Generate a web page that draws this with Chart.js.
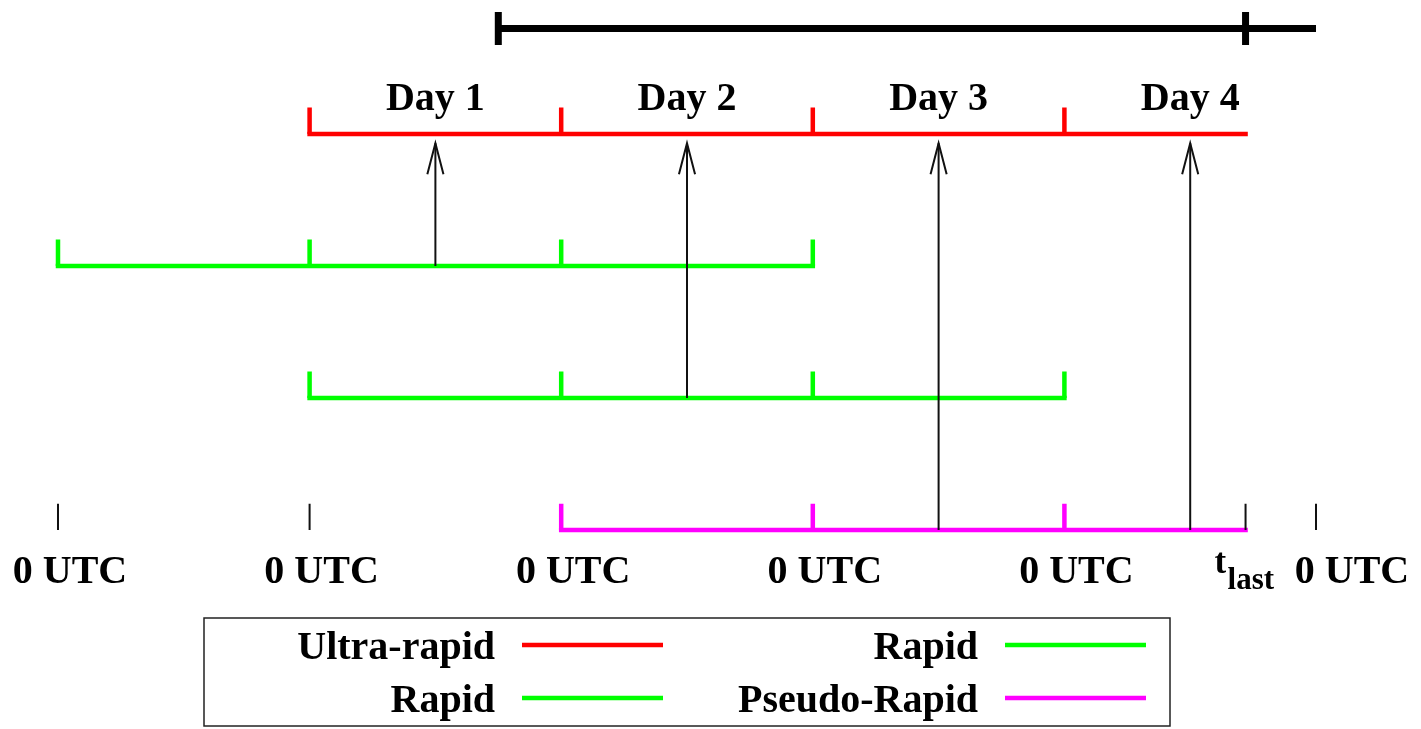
<!DOCTYPE html>
<html>
<head>
<meta charset="utf-8">
<title>Product timeline</title>
<script src="https://cdn.jsdelivr.net/npm/chart.js@4.4.0/dist/chart.umd.min.js"></script>
<style>
  body { margin: 0; background: #fff; }
  #wrap { width: 1421px; height: 729px; }
</style>
</head>
<body>
<div id="wrap"><canvas id="myChart" width="1421" height="729"></canvas></div>
<script>
// time axis in days, 0 = first 0 UTC mark
const dayStarts = [0, 1, 2, 3, 4, 5];
const utcLabels = ["0 UTC", "0 UTC", "0 UTC", "0 UTC", "0 UTC", "0 UTC"];
const tLast = 4.72;
const windowStart = 1.75;
const windowLevel = 3.8;

const dayLabels = ["Day 1", "Day 2", "Day 3", "Day 4"];
const dayCentres = [1.5, 2.5, 3.5, 4.5];

// one row per product
const productNames = ["Ultra-rapid", "Rapid", "Rapid", "Pseudo-Rapid"];
const productColors = ["#ff0000", "#00ff00", "#00ff00", "#ff00ff"];
const productLevels = [3, 2, 1, 0];
const productStarts = [1, 0, 1, 2];
const productEnds = [tLast, 3, 4, tLast];
const productTicks = [[1, 2, 3, 4], [0, 1, 2, 3], [1, 2, 3, 4], [2, 3, 4]];

// arrows: from a product row (level) up to the ultra-rapid day
const arrowX = [1.5, 2.5, 3.5, 4.5];
const arrowFrom = [2, 1, 0, 0];
const arrowTo = 2.93;

// thin black marks on the bottom row
const baseMarks = [0, 1, tLast, 5];

const FONT = '"Liberation Serif", "Times New Roman", serif';
const TICK = 0.2;

function ticksData(xs, level, h) {
  const out = [];
  xs.forEach(x => {
    out.push({ x: x, y: level }, { x: x, y: level + h }, { x: x, y: null });
  });
  return out;
}

function seg(data, color, width, extra) {
  return Object.assign({
    data: data,
    showLine: true,
    borderColor: color,
    backgroundColor: color,
    borderWidth: width,
    pointRadius: 0,
    borderCapStyle: "butt",
    borderJoinStyle: "miter",
    spanGaps: false,
  }, extra || {});
}

const datasets = [];

// arrows first so they sit on top
arrowX.forEach((x, i) => {
  datasets.push(seg([{ x: x, y: arrowFrom[i] }, { x: x, y: arrowTo }], "#111", 2));
  datasets.push(seg([
    { x: x - 0.032, y: arrowTo - 0.235 },
    { x: x, y: arrowTo },
    { x: x + 0.032, y: arrowTo - 0.235 },
  ], "#111", 2));
});

datasets.push(seg(ticksData(baseMarks, 0, TICK), "#111", 2));

productNames.forEach((name, i) => {
  datasets.push(seg([
    { x: productStarts[i], y: productLevels[i] },
    { x: productEnds[i], y: productLevels[i] },
  ], productColors[i], 4.5, { label: name, borderCapStyle: "square" }));
  datasets.push(seg(ticksData(productTicks[i], productLevels[i], TICK), productColors[i], 4.5));
});

// data window bar on top
datasets.push(seg([{ x: windowStart, y: windowLevel }, { x: 5, y: windowLevel }], "#000", 7));
datasets.push(seg(ticksData([windowStart, tLast], windowLevel - 0.125, 0.25), "#000", 7));

const labelPlugin = {
  id: "labels",
  afterDatasetsDraw(chart) {
    const ctx = chart.ctx;
    const xs = chart.scales.x;
    const ys = chart.scales.y;
    ctx.save();
    ctx.fillStyle = "#000";
    ctx.font = "bold 40px " + FONT;
    ctx.textBaseline = "alphabetic";
    ctx.textAlign = "center";
    dayLabels.forEach((t, i) => {
      ctx.fillText(t, xs.getPixelForValue(dayCentres[i]), ys.getPixelForValue(3.18));
    });
    utcLabels.forEach((t, i) => {
      const nudge = i === utcLabels.length - 1 ? 36 : 12;
      ctx.fillText(t, xs.getPixelForValue(dayStarts[i]) + nudge, ys.getPixelForValue(-0.4));
    });
    // t_last with subscript
    const tx = xs.getPixelForValue(tLast) - 31;
    ctx.textAlign = "left";
    ctx.font = "bold 35px " + FONT;
    ctx.fillText("t", tx, ys.getPixelForValue(-0.325));
    ctx.font = "bold 31px " + FONT;
    ctx.fillText("last", tx + 13, ys.getPixelForValue(-0.45));
    ctx.restore();
  },
  afterDraw(chart) {
    const ctx = chart.ctx;
    ctx.save();
    ctx.strokeStyle = "#222";
    ctx.lineWidth = 1.5;
    ctx.strokeRect(204, 618, 966, 108);
    ctx.font = "bold 40px " + FONT;
    ctx.textAlign = "right";
    ctx.textBaseline = "alphabetic";
    const colText = [495, 978];
    const colLine = [522, 1005];
    const rowLine = [645, 698];
    productNames.forEach((name, i) => {
      const c = Math.floor(i / 2), r = i % 2;
      ctx.fillStyle = "#000";
      ctx.fillText(name, colText[c], rowLine[r] + 14);
      ctx.strokeStyle = productColors[i];
      ctx.lineWidth = 4.5;
      ctx.beginPath();
      ctx.moveTo(colLine[c], rowLine[r]);
      ctx.lineTo(colLine[c] + 141, rowLine[r]);
      ctx.stroke();
    });
    ctx.restore();
  },
};

new Chart(document.getElementById("myChart"), {
  type: "scatter",
  data: { datasets: datasets },
  options: {
    responsive: false,
    animation: false,
    events: [],
    layout: { padding: { left: 0, right: 0, top: 0, bottom: 129 } },
    plugins: { legend: { display: false }, tooltip: { enabled: false } },
    scales: {
      x: { type: "linear", display: false, min: -0.2305, max: 5.4173 },
      y: { type: "linear", display: false, min: -0.53, max: 4.015 },
    },
  },
  plugins: [labelPlugin],
});
</script>
</body>
</html>
